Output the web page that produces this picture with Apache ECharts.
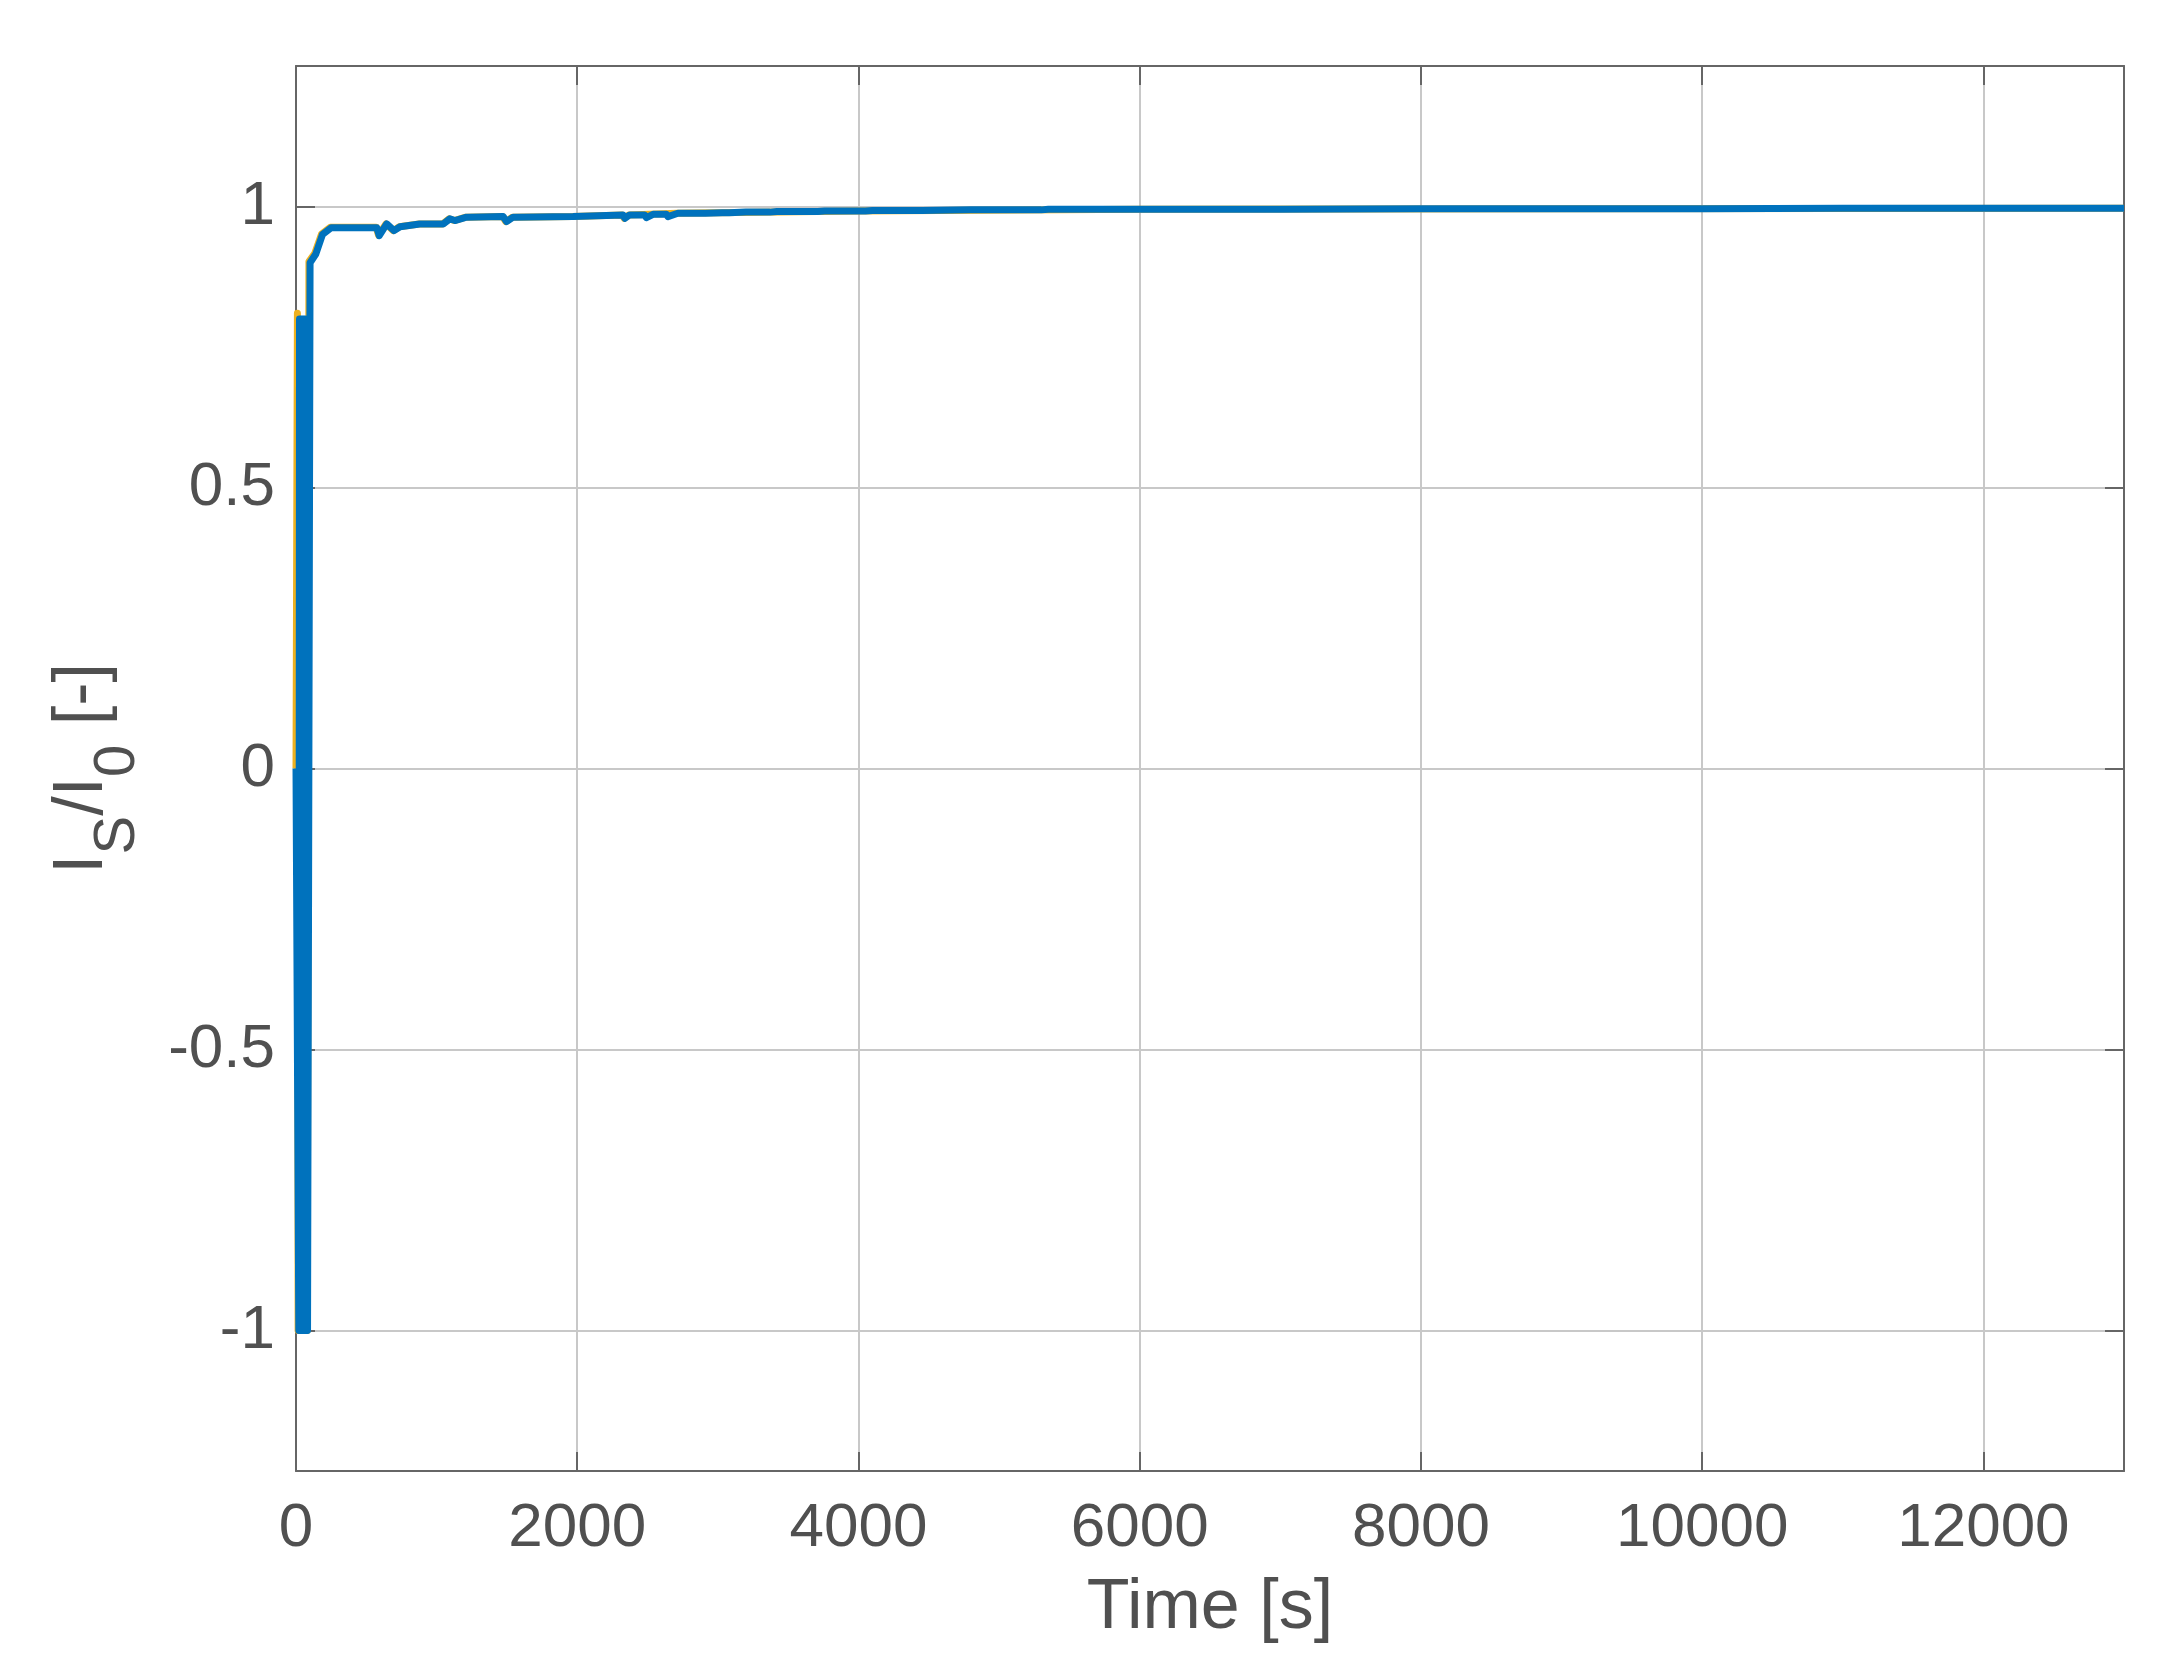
<!DOCTYPE html>
<html>
<head>
<meta charset="utf-8">
<script src="https://cdn.jsdelivr.net/npm/echarts@6/dist/echarts.min.js"></script>
<style>
html,body{margin:0;padding:0;background:#fff;}
#chart{width:2180px;height:1675px;}
</style>
</head>
<body>
<div id="chart"></div>
<script>
// ---- data ----
const blueTime  = [0,20,25,30,35,40,45,50,55,60,65,70,75,82,90,100,140,188,250,575,592,645,697,740,880,1047,1094,1130,1213,1474,1497,1544,1971,2326,2338,2373,2480,2492,2539,2635,2645,2716,2860,2870,2910,3030,3040,3080,3200,3210,3250,3370,3380,3420,3540,3550,3590,3710,3720,3760,3880,3890,3930,4050,4060,4100,4400,4410,4450,4800,4810,4850,5300,5310,5350,6000,7000,8000,9000,10000,11000,12000,13000];
const blueValue = [0,-1,0.8,-1,0.8,-1,0.8,-1,0.8,-1,0.8,-1,0.8,-1,-1,0.9,0.915,0.95,0.962,0.962,0.948,0.969,0.957,0.964,0.969,0.969,0.978,0.975,0.981,0.982,0.973,0.981,0.982,0.985,0.979,0.985,0.985,0.98,0.986,0.986,0.982,0.988,0.988,0.986,0.988,0.989,0.987,0.989,0.99,0.988,0.99,0.99,0.989,0.991,0.991,0.99,0.991,0.991,0.99,0.992,0.992,0.991,0.992,0.992,0.991,0.993,0.993,0.992,0.993,0.994,0.993,0.994,0.994,0.993,0.995,0.995,0.995,0.996,0.996,0.996,0.997,0.997,0.997];
const yellowTime  = [0,10,15,20,26,80,92,134,182,244,570,587,640,692,735,875,1042,1089,1125,1208,1469,1492,1539,1966,2321,2333,2368,2711,4000,6000,9000,13000];
const yellowValue = [0,0.81,-1,0.8,-1,-1,0.902,0.917,0.951,0.963,0.963,0.949,0.969,0.957,0.964,0.969,0.969,0.978,0.975,0.981,0.982,0.973,0.981,0.982,0.985,0.979,0.985,0.988,0.992,0.995,0.996,0.997];
const xMin = 0, xMax = 13000, xStep = 2000;
const yMin = -1.25, yMax = 1.25;

const toPairs = (t, v) => t.map((x, i) => [x, v[i]]);

const FONT = 'Liberation Sans';
const TXT = '#505050';
const AX = '#666666';
const GRID = '#c8c8c8';

const chart = echarts.init(document.getElementById('chart'), null, {renderer: 'canvas'});

const axisCommon = {
  axisLine: {show: true, onZero: false, lineStyle: {color: AX, width: 2}},
  axisTick: {show: true, inside: true, length: 19, lineStyle: {color: AX, width: 2}},
};

chart.setOption({
  backgroundColor: '#ffffff',
  animation: false,
  grid: {left: 296, right: 56, top: 66, bottom: 204, containLabel: false},
  xAxis: [
    Object.assign({
      type: 'value', position: 'bottom', min: xMin, max: xMax, interval: xStep,
      name: 'Time [s]', nameLocation: 'middle', nameGap: 103,
      nameTextStyle: {fontFamily: FONT, fontSize: 70, color: TXT},
      axisLabel: {show: true, margin: 27, fontFamily: FONT, fontSize: 62, color: TXT,
        showMaxLabel: false, formatter: v => String(v)},
      splitLine: {show: true, lineStyle: {color: GRID, width: 2}},
    }, axisCommon),
    Object.assign({
      type: 'value', position: 'top', min: xMin, max: xMax, interval: xStep,
      axisLabel: {show: false}, splitLine: {show: false},
    }, axisCommon)
  ],
  yAxis: [
    Object.assign({
      type: 'value', position: 'left', min: yMin, max: yMax, splitNumber: 5,
      name: '{a|I}{b|S}{a|/I}{b|0}{a| [-]}', nameLocation: 'middle', nameRotate: 90, nameGap: 149,
      nameTextStyle: {
        fontFamily: FONT, color: TXT,
        rich: {
          a: {fontFamily: FONT, fontSize: 70, color: TXT, lineHeight: 99, verticalAlign: 'top'},
          b: {fontFamily: FONT, fontSize: 58, color: TXT, lineHeight: 58, verticalAlign: 'bottom'}
        }
      },
      axisLabel: {show: true, margin: 21, fontFamily: FONT, fontSize: 62, color: TXT,
        showMinLabel: false, showMaxLabel: false, formatter: v => String(v)},
      splitLine: {show: true, lineStyle: {color: GRID, width: 2}},
    }, axisCommon),
    Object.assign({
      type: 'value', position: 'right', min: yMin, max: yMax, splitNumber: 5,
      axisLabel: {show: false}, splitLine: {show: false},
    }, axisCommon)
  ],
  series: [
    {
      type: 'line', name: 'ref', data: toPairs(yellowTime, yellowValue),
      showSymbol: false, symbol: 'none', clip: true,
      lineStyle: {color: '#EDB120', width: 7, join: 'round'}, z: 2
    },
    {
      type: 'line', name: 'Is/I0', data: toPairs(blueTime, blueValue),
      showSymbol: false, symbol: 'none', clip: true,
      lineStyle: {color: '#0072BD', width: 7, join: 'round'}, z: 3
    }
  ]
});
</script>
</body>
</html>
